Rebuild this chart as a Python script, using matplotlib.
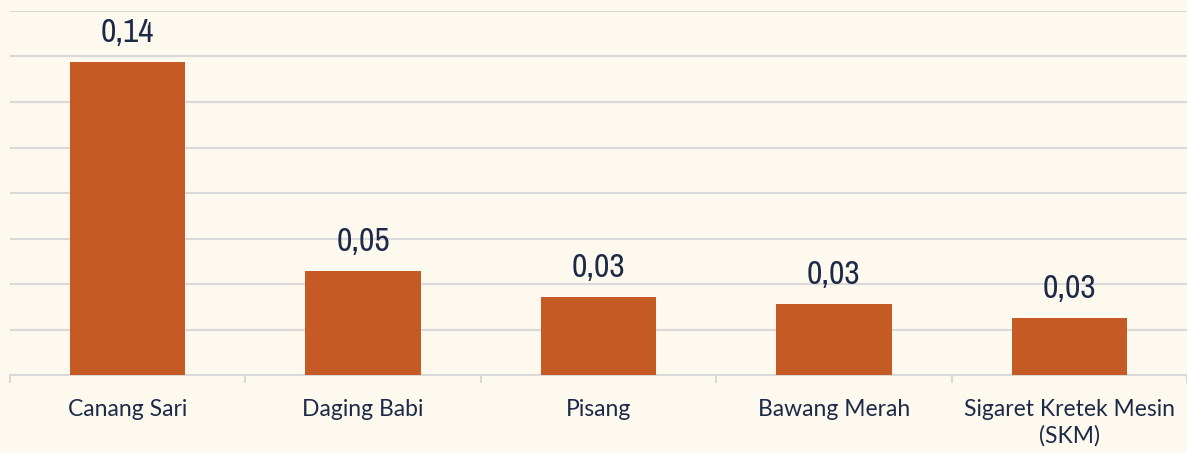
import numpy as np
import matplotlib.pyplot as plt
from matplotlib.ticker import MultipleLocator, FixedLocator

# data
categories = ['Canang Sari', 'Daging Babi', 'Pisang', 'Bawang Merah',
              'Sigaret Kretek Mesin\n(SKM)']
values = [0.1376, 0.0457, 0.0343, 0.0311, 0.0252]

bg = '#FEF9EE'
bar_color = '#C55A24'
text_color = '#1C2A48'
grid_color = '#D9D9D9'

fig = plt.figure(figsize=(11.87, 4.53), dpi=100, facecolor=bg)
ax = fig.add_axes([10 / 1187, 1 - 375 / 453, 1177 / 1187, 364 / 453])
ax.set_facecolor(bg)

x = np.arange(len(categories))
ax.bar(x, values, width=0.49, color=bar_color, zorder=3)

# value labels with decimal comma
for xi, v in zip(x, values):
    ax.annotate(f'{v:.2f}'.replace('.', ','), (xi, v), xytext=(0, 10),
                textcoords='offset points', ha='center', va='bottom',
                fontsize=24, color=text_color,
                family=['Archivo Narrow', 'DejaVu Sans'])

ax.set_xlim(-0.5, len(categories) - 0.5)
ax.set_ylim(0, 0.16)
ax.yaxis.set_major_locator(MultipleLocator(0.02))
ax.grid(axis='y', color=grid_color, linewidth=1.5, zorder=0)
ax.set_yticklabels([])
ax.tick_params(axis='y', length=0)

ax.set_xticks(x)
ax.set_xticklabels(categories, fontsize=16.5, color=text_color,
                   family=['Lato', 'DejaVu Sans'], linespacing=1.3)
ax.tick_params(axis='x', which='major', length=0, pad=17)
ax.xaxis.set_minor_locator(FixedLocator(np.arange(-0.5, len(categories), 1.0)))
ax.tick_params(axis='x', which='minor', length=6, width=1.5, color=grid_color,
               direction='out')

for side in ['top', 'right', 'left']:
    ax.spines[side].set_visible(False)
ax.spines['bottom'].set_color(grid_color)
ax.spines['bottom'].set_linewidth(1.5)

fig.savefig('out.png', dpi=100, facecolor=bg)
